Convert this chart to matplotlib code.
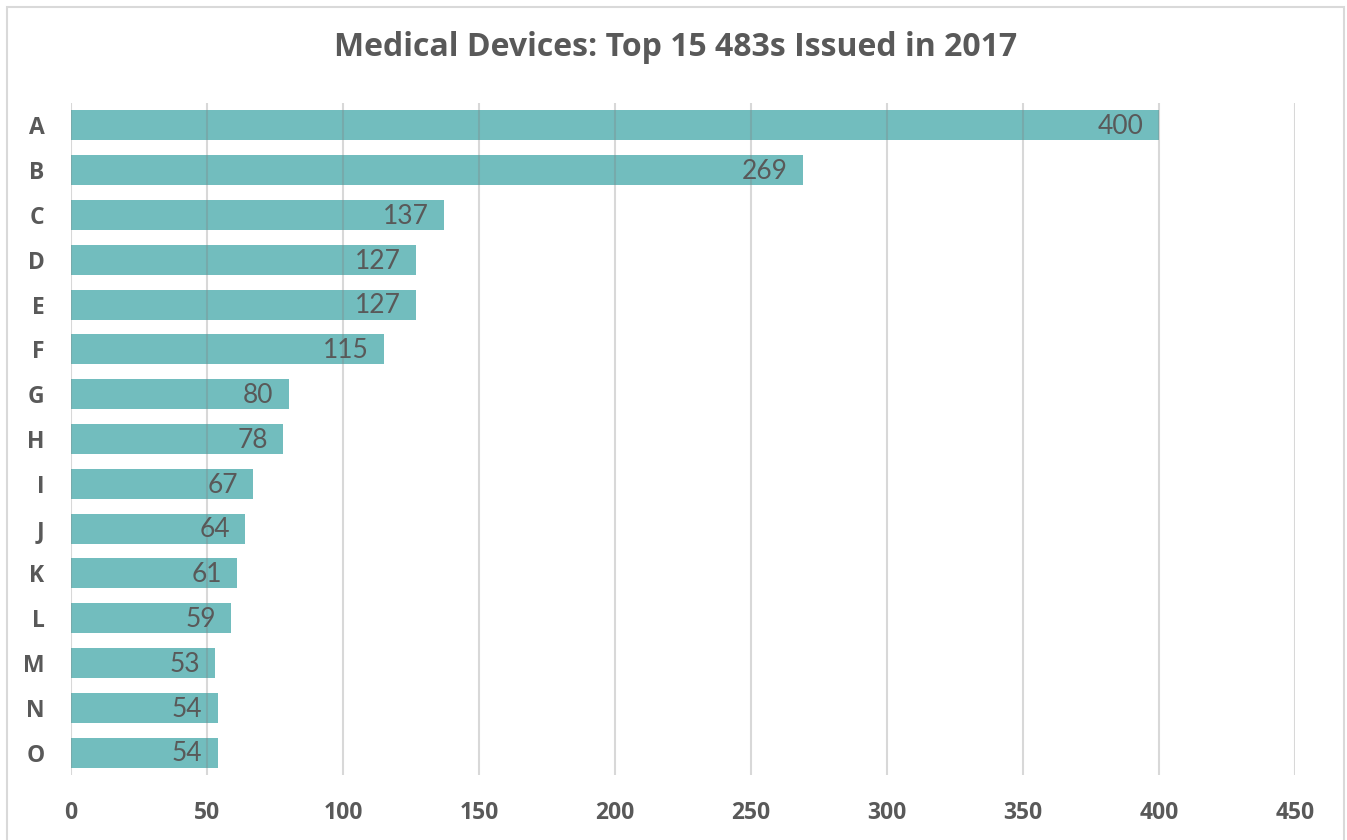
import matplotlib
matplotlib.use("Agg")
import matplotlib.pyplot as plt
from matplotlib.patches import Rectangle

categories = ["A", "B", "C", "D", "E", "F", "G", "H", "I", "J", "K", "L", "M", "N", "O"]
counts = [400, 269, 137, 127, 127, 115, 80, 78, 67, 64, 61, 59, 53, 54, 54]
x_ticks = [0, 50, 100, 150, 200, 250, 300, 350, 400, 450]

plt.rcParams['font.family'] = ['Lato', 'DejaVu Sans']
bold_font = ['Open Sans', 'DejaVu Sans']
text_grey = "#595959"
bar_color = "#72BDBE"

fig = plt.figure(figsize=(13.47, 8.40), dpi=100)
W, H = 1347, 840

# light outer frame
fig.patches.append(Rectangle((7 / W, -0.01), (1344 - 7) / W, (840 - 7) / H + 0.01,
                             transform=fig.transFigure, fill=False,
                             edgecolor="#D9D9D9", linewidth=1.5))

ax = fig.add_axes([71 / W, (840 - 775) / H, (1295 - 71) / W, (775 - 103) / H])

ypos = list(range(len(categories)))
ax.barh(ypos, counts, height=0.67, color=bar_color, zorder=2)

for y, v in zip(ypos, counts):
    ax.annotate(str(v), xy=(v, y), xytext=(-11, -1), textcoords="offset points",
                ha="right", va="center", fontsize=19, color=text_grey, zorder=4)

ax.set_xlim(0, 450)
ax.set_ylim(14.5, -0.5)
ax.set_xticks(x_ticks)
ax.set_yticks(ypos)
ax.set_yticklabels(categories)

for t in x_ticks:
    ax.axvline(t, color="#808080", alpha=0.3, linewidth=1.5, zorder=3)

for s in ax.spines.values():
    s.set_visible(False)
ax.tick_params(axis="both", length=0, labelcolor=text_grey)
ax.tick_params(axis="x", pad=19)
ax.tick_params(axis="y", pad=19)
for lab in ax.get_xticklabels() + ax.get_yticklabels():
    lab.set_fontweight("bold")
    lab.set_family(bold_font)
    lab.set_fontsize(16.5)

fig.text(676 / W, 1 - 47 / H, "Medical Devices: Top 15 483s Issued in 2017",
         ha="center", va="center", fontsize=23, fontweight="bold",
         color=text_grey, family=bold_font)

fig.savefig("out.png", dpi=100)
